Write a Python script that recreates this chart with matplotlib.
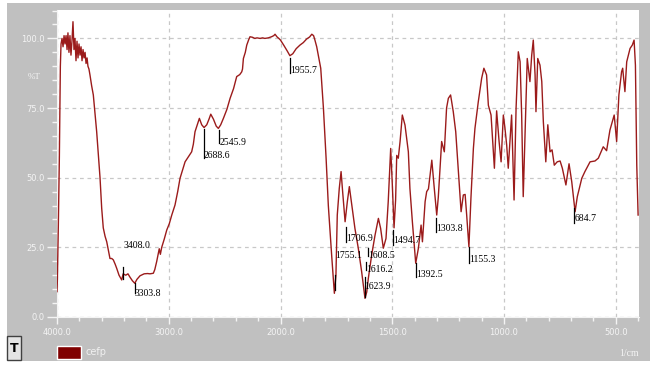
import numpy as np
import matplotlib
matplotlib.use('Agg')
import matplotlib.pyplot as plt
from matplotlib.patches import Rectangle

# spectrum (wavenumber 1/cm, %T)
wavenumber = [4000, 3997, 3988, 3979, 3970, 3964, 3955, 3946, 3937, 3928, 3919, 3910, 3902, 3893,
              3884, 3875, 3866, 3857, 3848, 3839, 3830, 3821, 3812, 3803, 3794, 3785, 3776, 3767,
              3758, 3749, 3740, 3731, 3723, 3714, 3705, 3690, 3675, 3660, 3645, 3630, 3615, 3600,
              3586, 3570, 3555, 3540, 3526, 3510, 3496, 3480, 3466, 3445, 3421, 3408, 3385, 3365,
              3347, 3325, 3304, 3285, 3257, 3220, 3190, 3168, 3138, 3125, 3108, 3085, 3075, 3063,
              3040, 3018, 2995, 2973, 2944, 2920, 2899, 2875, 2854, 2825, 2795, 2780, 2765, 2745,
              2726, 2705, 2684, 2660, 2640, 2624, 2600, 2575, 2556, 2535, 2511, 2480, 2451, 2420,
              2392, 2365, 2347, 2340, 2332, 2315, 2302, 2285, 2273, 2250, 2230, 2210, 2183, 2160,
              2140, 2109, 2080, 2060, 2049, 2030, 2015, 2000, 1985, 1970, 1958, 1945, 1930, 1913,
              1898, 1883, 1870, 1860, 1852, 1846, 1838, 1831, 1820, 1808, 1796, 1786, 1771, 1759,
              1752, 1746, 1737, 1729, 1722, 1711, 1701, 1692, 1681, 1667, 1652, 1637, 1622, 1614,
              1607, 1592, 1577, 1562, 1552, 1540, 1528, 1518, 1507, 1500, 1492, 1485, 1480, 1473,
              1465, 1455, 1443, 1428, 1421, 1410, 1395, 1383, 1371, 1365, 1353, 1346, 1338, 1323,
              1312, 1301, 1294, 1279, 1267, 1257, 1249, 1239, 1227, 1216, 1204, 1192, 1182, 1174,
              1167, 1157, 1148, 1137, 1130, 1115, 1100, 1090, 1078, 1070, 1058, 1043, 1033, 1022,
              1013, 1003, 996, 988, 981, 966, 955, 946, 936, 928, 921, 914, 906, 896, 884, 876,
              869, 861, 857, 849, 839, 831, 824, 813, 804, 794, 785, 775, 762, 749, 739, 723, 709,
              697, 682, 672, 652, 638, 615, 593, 578, 556, 541, 526, 507, 496, 486, 474, 469, 459,
              451, 436, 426, 418, 412, 406, 400]
transmittance = [9.1, 12.7, 33, 57, 90, 98, 100, 97, 101, 98, 101, 96, 102, 95,
                 101, 94, 99, 106, 96, 100, 92, 99, 93, 98, 94, 97, 92, 96,
                 93, 95, 91, 93, 90, 89, 86.9, 83, 79.7, 73, 66.5, 58, 50, 39,
                 32, 29, 27, 24, 21, 21, 20.5, 19, 17.5, 15, 13.3, 15.5, 15, 15.5,
                 14.3, 13, 12.1, 13.5, 14.8, 15.5, 15.6, 15.5, 15.7, 17, 19.9, 24.5, 22.5, 25,
                 28, 31.2, 33.5, 36.6, 40.2, 45, 49.8, 53, 55.7, 57.5, 59.3, 62, 66.5, 69,
                 71.3, 69, 68, 69, 71, 72.8, 71, 68.5, 67.7, 69, 71.3, 74.5, 78.5, 82,
                 86.3, 87, 88, 89, 92.8, 95, 97.6, 99.5, 100.6, 100.4, 100, 100.2, 100, 100.2,
                 100, 100.2, 100.6, 101, 101.5, 100.5, 100, 99.4, 97.5, 95.5, 93.8, 94.5, 96.3, 97.6,
                 98.5, 99.8, 100.5, 101.5, 101, 99.4, 97, 94, 89.3, 75, 57, 40, 22, 8.5,
                 15, 36.6, 46.2, 52.2, 45, 34.2, 41.4, 46.8, 40.2, 31.8, 24.7, 16.3, 6.7, 9,
                 13.9, 22.3, 29.4, 35.4, 31.8, 24.7, 28.2, 41.4, 60.5, 48, 32, 42, 58, 57,
                 63, 72.5, 68.9, 59.3, 46.2, 34.2, 19.3, 24.7, 33, 27, 41.4, 45, 46, 56.3,
                 46.2, 36.6, 43, 63, 59.3, 75, 78.5, 79.7, 73.7, 66.5, 52.2, 37.8, 43.8, 44,
                 36.6, 25.2, 42.6, 60.5, 67.7, 77.3, 85.7, 89.3, 86.9, 76, 72.5, 53.4, 74, 63,
                 55.7, 72.5, 68, 61.7, 53.4, 72.5, 42, 75, 95.2, 91.6, 72.5, 43.2, 65, 92.8, 84.5, 94,
                 99.4, 86.9, 73.7, 92.8, 90.4, 84.5, 70.1, 55.7, 69, 59.3, 60, 54.5, 55.7, 56, 53.4, 47.4, 55,
                 48.6, 37.8, 43.2, 49.8, 52.2, 55.7, 56, 57, 61.1, 59.7, 67.1, 72.5, 63, 79.7, 88, 89.3, 80.9,
                 91.6, 96.4, 97.6, 99.4, 90.4, 54.5, 36.6]

# peak labels: text, wavenumber, line top / line bottom / text height in %T
peak_text = ['3408.0', '3303.8', '2688.6', '2545.9', '1955.7', '1755.1', '1706.9',
             '1608.5', '1616.2', '1623.9', '1494.7', '1392.5', '1303.8', '1155.3', '684.7']
peak_wn = [3408.0, 3303.8, 2688.6, 2545.9, 1955.7, 1755.1, 1706.9,
           1608.5, 1616.2, 1623.9, 1494.7, 1392.5, 1303.8, 1155.3, 684.7]
line_top = [17.9, 12.2, 67.5, 67.1, 93.0, 15.1, 32.3, 24.8, 19.8, 14.4, 31.2, 19.4, 35.5, 25.1, 39.1]
line_bot = [13.6, 8.6, 57.1, 62.4, 87.5, 9.7, 26.9, 21.9, 16.9, 7.2, 25.8, 14.4, 30.5, 19.4, 33.7]
text_y = [25.5, 8.6, 58.1, 62.8, 88.6, 22.0, 28.0, 21.9, 16.9, 11.1, 27.3, 15.4, 31.6, 20.5, 35.2]

major_x = [4000, 3000, 2000, 1500, 1000, 500]
major_y = [0, 25, 50, 75, 100]


def fwd(w):
    w = np.asarray(w, dtype=float)
    return np.where(w >= 2000, w, 2 * w - 2000)


def inv(x):
    x = np.asarray(x, dtype=float)
    return np.where(x >= 2000, x, (x + 2000) / 2)


W, H = 659, 367
fig = plt.figure(figsize=(W / 100, H / 100), dpi=100, facecolor='white')
fig.add_artist(Rectangle((7 / W, 6 / H), 643 / W, 358 / H, transform=fig.transFigure,
                         facecolor='#c0c0c0', edgecolor='none', zorder=0))

ax = fig.add_axes([57 / W, 50 / H, 582 / W, 307 / H])
ax.set_facecolor('white')
ax.set_xscale('function', functions=(fwd, inv))
ax.set_xlim(4000, 396)
ax.set_ylim(0, 110.2)

ax.plot(wavenumber, transmittance, color='#9b1b1b', lw=1.0, zorder=3)

for t, w, y1, y2, ty in zip(peak_text, peak_wn, line_top, line_bot, text_y):
    ax.plot([w, w], [y1, y2], color='black', lw=0.9, zorder=4)
    ax.text(w, ty, t, ha='left', va='center', fontsize=7, family='Liberation Serif',
            color='black', zorder=5)

minor_x = [v for v in list(range(3800, 2000, -200)) + list(range(1900, 399, -100)) if v not in major_x]
ax.set_xticks(major_x)
ax.set_xticklabels(['%.1f' % v for v in major_x])
ax.set_xticks(minor_x, minor=True)
ax.set_yticks(major_y)
ax.set_yticklabels(['%.1f' % v for v in major_y])
ax.set_yticks([v for v in range(0, 111, 5) if v not in major_y], minor=True)

ax.tick_params(axis='both', which='both', colors='#f4f4f4', labelcolor='#f4f4f4', labelsize=6)
ax.tick_params(axis='y', which='major', length=7, width=1, pad=2)
ax.tick_params(axis='y', which='minor', length=3.5, width=1)
ax.tick_params(axis='x', which='major', length=5, width=1, pad=3)
ax.tick_params(axis='x', which='minor', length=3, width=1)

for s in ['top', 'right']:
    ax.spines[s].set_visible(False)
for s in ['left', 'bottom']:
    ax.spines[s].set_color('#f4f4f4')

ax.grid(True, which='major', color='#c8c8c8', linestyle=(0, (3, 3)), lw=0.9)
ax.set_axisbelow(True)

fig.text(34 / W, 1 - 77 / H, '%T', color='#f4f4f4', fontsize=6.5, family='Liberation Serif',
         ha='center', va='center')
fig.text(629 / W, 1 - 353 / H, '1/cm', color='#f4f4f4', fontsize=7, family='Liberation Serif',
         ha='center', va='center')

# T button and legend swatch
fig.add_artist(Rectangle((7 / W, 7 / H), 14 / W, 24 / H, transform=fig.transFigure,
                         facecolor='#e4e4e4', edgecolor='#404040', lw=1, zorder=1))
fig.text(14 / W, 1 - 348 / H, 'T', fontsize=9, fontweight='bold', ha='center', va='center')
fig.add_artist(Rectangle((57 / W, 8 / H), 24 / W, 13 / H, transform=fig.transFigure,
                         facecolor='#800000', edgecolor='white', lw=1, zorder=1))
fig.text(86 / W, 1 - 352 / H, 'cefp', color='#f0f0f0', fontsize=7, ha='left', va='center')

fig.savefig('out.png', dpi=100)
